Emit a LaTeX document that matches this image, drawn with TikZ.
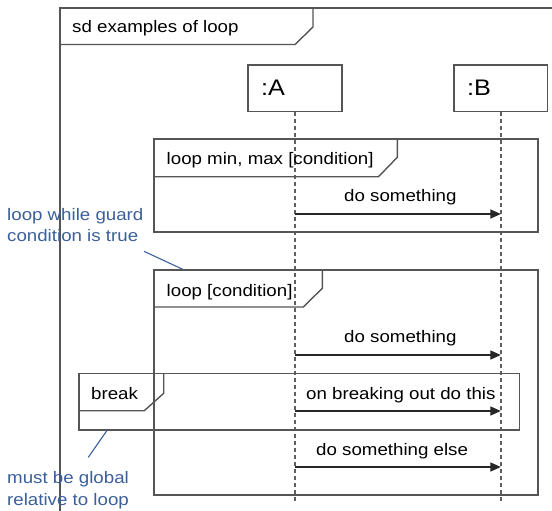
\documentclass[tikz,border=0pt]{standalone}
\usepackage{fontspec}
\setmainfont{Liberation Sans}[FakeStretch=1.12]
\usetikzlibrary{arrows.meta}
\definecolor{lin}{RGB}{85,85,85}
\definecolor{life}{RGB}{95,95,95}
\definecolor{note}{RGB}{59,96,155}
\tikzset{
  frameline/.style={draw=lin, line width=1.4pt},
  lifeline/.style={draw=life, line width=1.3pt, dash pattern=on 4pt off 3pt},
  msg/.style={draw=black!85, line width=1.4pt, -{Triangle[length=10.5pt,width=9pt]}},
  txt/.style={inner sep=0pt, font=\fontsize{16.7}{20}\selectfont, text=black},
  notetxt/.style={inner sep=0pt, font=\fontsize{16.7}{20}\selectfont, text=note},
  noteline/.style={draw=note, line width=1.1pt},
  objbox/.style={draw=lin, line width=1.4pt, minimum height=46.5pt, inner xsep=13pt,
    align=left, font=\fontsize{22.5}{26}\selectfont, anchor=north west}
}
\begin{document}
\begin{tikzpicture}[x=1pt,y=-1pt]
\useasboundingbox (0,0) rectangle (552,511);
\clip (0,0) rectangle (552,511);
\fill[white] (0,0) rectangle (552,511);

% outer sd frame
\draw[frameline] (60,520) -- (60,8) -- (560,8);
\draw[frameline] (60,44.5) -- (295,44.5) -- (313,27) -- (313,8);
\node[txt, anchor=base west] (title) at (72,32.3) {sd examples of loop};

% lifeline heads
\node[objbox, text width=68pt] (A) at (247.3,64.3) {:A};
\node[objbox, text width=67.7pt] (B) at (453.3,64.3) {:B};
\coordinate (Aend) at (A.south |- 0,501.7);
\coordinate (Bend) at (B.south |- 0,501.7);
\draw[lifeline] (A.south) -- (Aend);
\draw[lifeline] (B.south) -- (Bend);

% loop min, max fragment
\coordinate (L1nw) at (154,139);
\coordinate (L1se) at (538,232);
\draw[frameline] (L1nw) rectangle (L1se);
\draw[frameline] (154,176.7) -- (378.5,176.7) -- (397.3,157.3) -- (397.3,139);
\node[txt, anchor=base west] (L1lbl) at (166.5,164) {loop min, max [condition]};

% loop [condition] fragment
\coordinate (L2nw) at (154,270);
\coordinate (L2se) at (538,495);
\draw[frameline] (L2nw) rectangle (L2se);
\draw[frameline] (154,307) -- (303.3,307) -- (322.3,288.3) -- (322.3,270);
\node[txt, anchor=base west] (L2lbl) at (166.5,296.5) {loop [condition]};

% break fragment
\coordinate (Brnw) at (79,373.7);
\coordinate (Brse) at (519.7,430);
\draw[frameline] (Brnw) rectangle (Brse);
\draw[frameline] (79,410.7) -- (144.3,410.7) -- (163.7,393.3) -- (163.7,373.7);
\node[txt, anchor=base west] (Brlbl) at (91,399.3) {break};

% messages
\coordinate (a1) at (A.south |- 0,214);  \coordinate (b1) at (B.south |- 0,214);
\coordinate (a2) at (A.south |- 0,355);  \coordinate (b2) at (B.south |- 0,355);
\coordinate (a3) at (A.south |- 0,411);  \coordinate (b3) at (B.south |- 0,411);
\coordinate (a4) at (A.south |- 0,467);  \coordinate (b4) at (B.south |- 0,467);
\draw[msg] (a1) -- (b1);
\draw[msg] (a2) -- (b2);
\draw[msg] (a3) -- (b3);
\draw[msg] (a4) -- (b4);
\node[txt, anchor=base west] (m1) at (344,201) {do something};
\node[txt, anchor=base west] (m2) at (344,342.5) {do something};
\node[txt, anchor=base west] (m3) at (306,399.3) {on breaking out do this};
\node[txt, anchor=base west] (m4) at (316,455) {do something else};

% notes
\node[notetxt, anchor=base west] (n1a) at (7,220) {loop while guard};
\node[notetxt, anchor=base west] (n1b) at (7,241.7) {condition is true};
\coordinate (n1s) at (144,251.3);
\coordinate (n1e) at (182.7,269.3);
\draw[noteline] (n1s) -- (n1e);

\node[notetxt, anchor=base west] (n2a) at (7,483.3) {must be global};
\node[notetxt, anchor=base west] (n2b) at (7,505) {relative to loop};
\coordinate (n2s) at (107.3,430);
\coordinate (n2e) at (88.3,457.3);
\draw[noteline] (n2s) -- (n2e);
\end{tikzpicture}
\end{document}
